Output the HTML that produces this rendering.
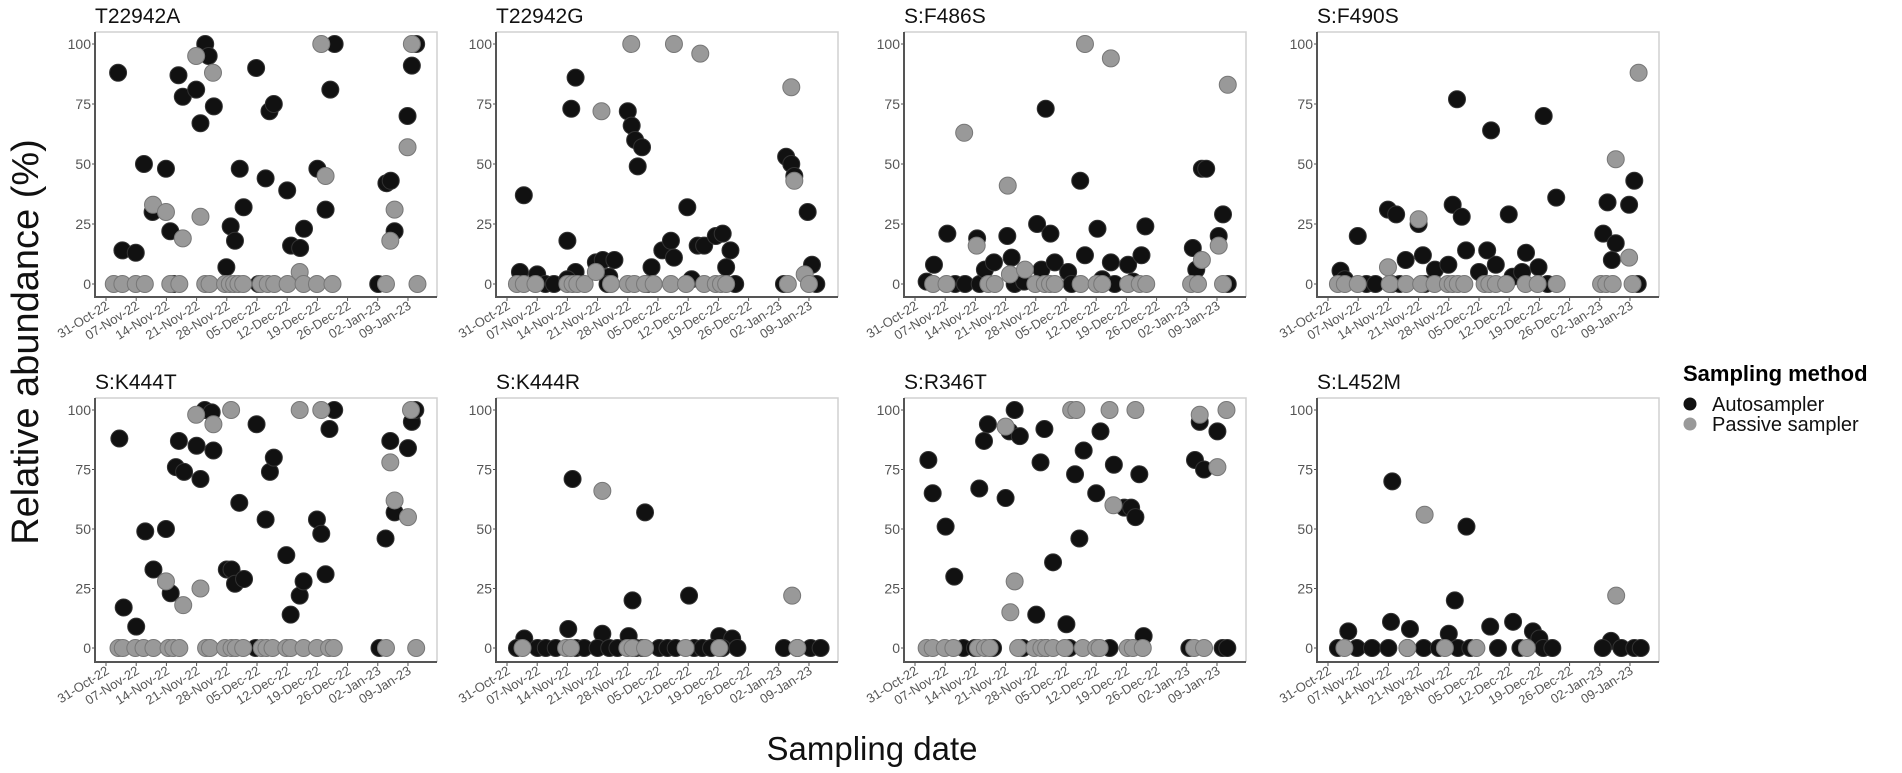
<!DOCTYPE html>
<html><head><meta charset="utf-8">
<style>
html,body{margin:0;padding:0;background:#fff;}
svg{display:block;font-family:"Liberation Sans",Arial,sans-serif;}
</style></head>
<body>
<svg id="chart" width="1902" height="773" viewBox="0 0 1902 773" xmlns="http://www.w3.org/2000/svg">
<text x="0" y="0" transform="translate(38,342) rotate(-90)" text-anchor="middle" font-size="38" fill="#111">Relative abundance (%)</text>
<text x="872" y="760" text-anchor="middle" font-size="33" fill="#111">Sampling date</text>
<g>
<text x="1683" y="381" font-size="22" font-weight="bold" fill="#000">Sampling method</text>
<circle cx="1690" cy="404" r="6.5" fill="#111"/>
<text x="1712" y="411" font-size="20" fill="#111">Autosampler</text>
<circle cx="1690" cy="424" r="6.5" fill="#999"/>
<text x="1712" y="431" font-size="20" fill="#111">Passive sampler</text>
</g>
</svg>
<script>
const tickLabels = ['31-Oct-22','07-Nov-22','14-Nov-22','21-Nov-22','28-Nov-22','05-Dec-22','12-Dec-22','19-Dec-22','26-Dec-22','02-Jan-23','09-Jan-23'];
const tickDays = [0,7,14,21,28,35,42,49,56,63,70];
const yTicks = [0,25,50,75,100];
const panelTitles = ['T22942A','T22942G','S:F486S','S:F490S','S:K444T','S:K444R','S:R346T','S:L452M'];

const p1AutoDays = [2.8,3.8,6.9,8.8,10.8,13.9,14.9,16.8,17.8,20.9,21.9,23,23.8,25,27.9,28.9,29.9,31,31.9,34.8,37,37.9,38.9,42,42.9,45,45.9,49,50.9,52,53,65,66,66.9,69.9,70.9,71.9,15.7,35.4,63.1];
const p1AutoVals = [88,14,13,50,30,48,22,87,78,81,67,100,95,74,7,24,18,48,32,90,44,72,75,39,16,15,23,48,31,81,100,42,43,22,70,91,100,0,0,0];
const p1PassDays = [10.9,13.9,17.8,20.9,21.9,24.8,44.9,49.9,50.9,65.9,66.9,69.9,70.9,1.8,3.8,6.9,9,14.9,17,23,24,27.6,28.7,29.7,30.7,31.8,35.9,37.5,39,42.1,45.8,48.9,52.5,64.9,72.2];
const p1PassVals = [33,30,19,95,28,88,5,100,45,18,31,57,100,0,0,0,0,0,0,0,0,0,0,0,0,0,0,0,0,0,0,0,0,0,0];

const p2AutoDays = [3,3.9,7,8.9,10.9,14,14.9,15.9,15.9,14,20.6,22.2,24.9,23.7,23.3,28,28.9,29.7,30.3,31.3,32.5,33.5,36,38,38.7,41.8,42.8,44.2,45.7,48.4,50,51.8,50.8,52.9,64.7,65.9,66.6,64.2,69.7,70.7,71.7];
const p2AutoVals = [5,37,4,0,0,18,73,86,5,2,9,10,10,3,0,72,66,60,49,57,0,7,14,18,11,32,2,16,16,20,21,14,7,0,53,50,45,0,30,8,0];
const p2PassDays = [2.3,3.9,6.6,14,15.2,16.3,18,20.6,24.1,21.9,28.8,28,29.5,32,34,38.7,44.8,65.9,66.6,38,41.5,45.7,48.4,49.6,50.8,65.1,69,70];
const p2PassVals = [0,0,0,0,0,0,0,5,0,72,100,0,0,0,0,100,96,82,43,0,0,0,0,0,0,0,4,0];

const p3AutoDays = [2.7,4.4,7.5,9.3,11.6,14.4,15,16.2,18.3,21.4,22.4,23.1,25.3,28.3,29.3,31.4,32.4,30.3,35.5,36.3,38.3,39.4,42.3,43.4,45.4,46.3,49.4,50.6,52.5,53.4,64.4,65.2,66.5,67.5,70.4,71.4,72.5];
const p3AutoVals = [1,8,21,0,0,19,0,6,9,20,11,0,1,25,6,21,9,73,5,0,43,12,23,2,9,0,8,1,12,24,15,6,48,48,20,29,0];
const p3PassDays = [4.2,7.3,11.4,14.3,17,18.5,21.5,22,25.5,27.9,30.1,31.3,32.4,38.4,39.4,42.1,43.4,45.4,49.4,52.1,53.6,64,65.6,66.5,70.4,71.4,72.5];
const p3PassVals = [0,0,63,16,0,0,41,4,6,0,0,0,0,0,100,0,0,94,0,0,0,0,0,10,16,0,83];

const p4AutoDays = [2.9,3.9,6.9,8.9,11,13.9,15.8,14.7,16.6,18,21,22,22.4,24.8,27.9,28.9,31,29.9,32,35,36.9,37.8,38.9,41.9,42.8,45,45.9,48.8,50,50.9,52.9,63.8,64.8,66.7,65.8,69.8,71,71.8];
const p4AutoVals = [5.5,2,20,0,0,31,29,0,0,10,25,12,0,6,8,33,28,77,14,5,14,64,8,29,3,5,13,7,70,0,36,21,34,17,10,33,43,0];
const p4PassDays = [2.3,3.9,6.9,13.9,14.3,18.1,21,21.6,24.7,27.8,28.9,30.1,31.6,36.3,37.4,38.9,41.3,45.8,48.6,53,63.3,64.5,66,66.7,69.8,70.6,72];
const p4PassVals = [0,0,0,7,0,0,27,0,0,0,0,0,0,0,0,0,0,0,0,0,0,0,0,52,11,0,88];

const p5AutoDays = [3.1,4.1,7,9.1,11,13.9,15,16.2,16.9,18.1,21,21.9,22.9,24.5,24.9,28,29.1,29.9,32,30.9,34.9,34.7,37,38,38.9,41.8,42.8,44.9,45.8,48.9,49.9,50.9,51.8,52.9,63.4,64.8,65.9,66.9,70,70.9,71.7];
const p5AutoVals = [88,17,9,49,33,50,23,76,87,74,85,71,100,99,83,33,33,27,29,61,94,0,54,74,80,39,14,22,28,54,48,31,92,100,0,46,87,57,84,95,100];
const p5PassDays = [2.9,3.9,6.8,8.7,11,14.5,15.6,17,23.2,24.1,27.6,29.1,30.1,31.8,36.1,37.2,38.6,41.8,42.8,45.8,48.9,51.7,52.8,64.9,71.9,13.9,17.9,20.9,21.9,24.9,29,44.9,49.9,65.9,66.9,70,70.7];
const p5PassVals = [0,0,0,0,0,0,0,0,0,0,0,0,0,0,0,0,0,0,0,0,0,0,0,0,0,28,18,98,25,94,100,100,100,78,62,55,100];

const p6AutoDays = [4,15.2,14.2,22.1,32,29.1,42.2,28.2,49.2,52.2,2.3,7.1,9,11.3,16,17.9,21,23.7,25.6,29.9,31.4,35.3,37.2,39.1,43.4,45.3,47.3,49.9,53.4,64.2,67.3,70.4,72.7];
const p6AutoVals = [4,71,8,6,57,20,22,5,5,4,0,0,0,0,0,0,0,0,0,0,0,0,0,0,0,0,0,0,0,0,0,0,0];
const p6PassDays = [22.1,66.1,3.6,13.7,14.8,27.9,29.1,32,41.4,49.2,67.3];
const p6PassVals = [66,22,0,0,0,0,0,0,0,0,0];

const p7AutoDays = [3.1,4.1,7.1,9.1,14.9,16,16.9,21,21.9,23.1,24.3,28.1,29.1,30,32,35.1,37.1,38.1,39.1,42,43,46.1,48.5,50.1,51.1,52,53,64.9,66,67,70.1,11.2,13.9,18.1,25,30.4,35.8,45.1,63.6,71.3,72.4];
const p7AutoVals = [79,65,51,30,67,87,94,63,91,100,89,14,78,92,36,10,73,46,83,65,91,77,59,59,55,73,5,79,95,75,91,0,0,0,0,0,0,0,0,0,0];
const p7PassDays = [22.1,23.1,21,46,36.2,37.4,45.1,51.1,66,70.1,72.2,2.7,4.1,6.9,8.9,14.6,16.2,17.3,23.9,27.7,29.3,30.4,32,34.7,38.9,42,42.8,49.3,50.5,52.8,64.7,67];
const p7PassVals = [15,28,93,60,100,100,100,100,98,76,100,0,0,0,0,0,0,0,0,0,0,0,0,0,0,0,0,0,0,0,0,0];

const p8AutoDays = [14.9,32.1,4.7,14.6,29.4,19,28,37.6,42.9,47.5,49,65.6,2.3,6.7,10.2,14,18.4,22.2,25.7,30.1,33,39.4,44.6,49.9,52,63.7,68,71,72.5];
const p8AutoVals = [70,51,7,11,20,8,6,9,11,7,4,3,0,0,0,0,0,0,0,0,0,0,0,0,0,0,0,0,0];
const p8PassDays = [22.4,66.8,3.8,18.4,27.1,34.4,46.1];
const p8PassVals = [56,22,0,0,0,0,0];

const autoDays = [p1AutoDays,p2AutoDays,p3AutoDays,p4AutoDays,p5AutoDays,p6AutoDays,p7AutoDays,p8AutoDays];
const autoVals = [p1AutoVals,p2AutoVals,p3AutoVals,p4AutoVals,p5AutoVals,p6AutoVals,p7AutoVals,p8AutoVals];
const passDays = [p1PassDays,p2PassDays,p3PassDays,p4PassDays,p5PassDays,p6PassDays,p7PassDays,p8PassDays];
const passVals = [p1PassVals,p2PassVals,p3PassVals,p4PassVals,p5PassVals,p6PassVals,p7PassVals,p8PassVals];

const NS = 'http://www.w3.org/2000/svg';
const svg = document.getElementById('chart');
const panelLefts = [95,496,904,1317];
const panelW = 342;
const rowTop = [32,398], rowBottom = [297,662];
const rowY100 = [44,410], rowY0 = [284,648];
function xScale(col, d){ return panelLefts[col] + 11 + d * 4.314; }
function yScale(row, v){ return rowY0[row] - v * (rowY0[row] - rowY100[row]) / 100; }
function mk(tag, attrs){ const e = document.createElementNS(NS, tag); for (const k in attrs) e.setAttribute(k, attrs[k]); return e; }

for (let p = 0; p < 8; p++) {
  const row = p < 4 ? 0 : 1, col = p % 4;
  const L = panelLefts[col], R = L + panelW, T = rowTop[row], B = rowBottom[row];
  const g = mk('g', {});
  
  
  svg.appendChild(g);
  const title = mk('text', {x: L, y: T - 9, 'font-size': 21, fill: '#111'});
  
  
  title.textContent = panelTitles[p];
  g.appendChild(title);
  const frame = mk('path', {d: `M${L},${T} H${R} V${B}`, fill: 'none', stroke: '#d0d0d0', 'stroke-width': 1.5});
  
  
  g.appendChild(frame);
  const axes = mk('path', {d: `M${L},${T} V${B} H${R}`, fill: 'none', stroke: '#555', 'stroke-width': 2});
  
  
  g.appendChild(axes);
  yTicks.forEach(v => {
    const y = yScale(row, v);
    const tk = mk('line', {x1: L - 3, x2: L, y1: y, y2: y, stroke: '#555', 'stroke-width': 1});
    
    
    g.appendChild(tk);
    const lb = mk('text', {x: L - 4, y: y + 5, 'text-anchor': 'end', 'font-size': 14, fill: '#555'});
    
    
    lb.textContent = v;
    g.appendChild(lb);
  });
  tickDays.forEach((d, i) => {
    const x = xScale(col, d);
    const tk = mk('line', {x1: x, x2: x, y1: B, y2: B + 4, stroke: '#555', 'stroke-width': 1});
    
    
    g.appendChild(tk);
    const lb = mk('text', {x: 0, y: 0, 'text-anchor': 'end', 'font-size': 13, fill: '#555', transform: `translate(${x+4},${B+11}) rotate(-32)`});
    
    
    lb.textContent = tickLabels[i];
    g.appendChild(lb);
  });
  autoDays[p].forEach((d, i) => {
    const c = mk('circle', {cx: xScale(col, d), cy: yScale(row, autoVals[p][i]), r: 8.5, fill: '#111', stroke: '#333', 'stroke-width': 1});
    
    
    g.appendChild(c);
  });
  passDays[p].forEach((d, i) => {
    const c = mk('circle', {cx: xScale(col, d), cy: yScale(row, passVals[p][i]), r: 8.5, fill: '#999', stroke: '#777', 'stroke-width': 1});
    
    
    g.appendChild(c);
  });
}
</script>
</body></html>
